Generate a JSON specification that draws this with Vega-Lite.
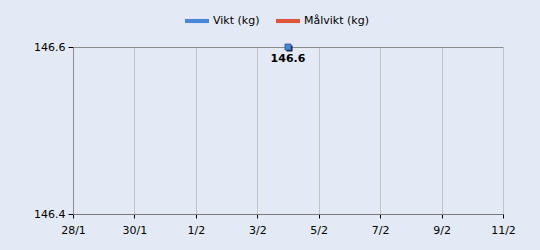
{
  "$schema": "https://vega.github.io/schema/vega-lite/v6.json",
  "width": 430,
  "height": 167,
  "autosize": {"type": "none"},
  "padding": {"left": 73, "top": 47, "right": 37, "bottom": 36},
  "background": "#e3eaf5",
  "config": {
    "view": {"stroke": null},
    "font": "DejaVu Sans",
    "axis": {"labelFont": "DejaVu Sans", "labelFontSize": 11, "labelColor": "#000000", "title": null}
  },
  "data": {"values": [
    {"date": "2013-02-04", "value": 146.6, "series": "Vikt (kg)"}
  ]},
  "encoding": {
    "x": {
      "field": "date", "type": "temporal",
      "scale": {"type": "utc", "domain": [
        {"year": 2013, "month": 1, "date": 28, "utc": true},
        {"year": 2013, "month": 2, "date": 11, "utc": true}
      ]},
      "axis": {
        "values": [
          {"year": 2013, "month": 1, "date": 28, "utc": true},
          {"year": 2013, "month": 1, "date": 30, "utc": true},
          {"year": 2013, "month": 2, "date": 1, "utc": true},
          {"year": 2013, "month": 2, "date": 3, "utc": true},
          {"year": 2013, "month": 2, "date": 5, "utc": true},
          {"year": 2013, "month": 2, "date": 7, "utc": true},
          {"year": 2013, "month": 2, "date": 9, "utc": true},
          {"year": 2013, "month": 2, "date": 11, "utc": true}
        ],
        "labelExpr": "utcFormat(datum.value, '%-d/%-m')",
        "grid": true, "gridColor": "#c4c4c4", "gridOpacity": 1,
        "domainColor": "#7a7a7a", "tickColor": "#000000", "tickSize": 4,
        "labelPadding": 6, "labelFlush": false
      }
    },
    "y": {
      "field": "value", "type": "quantitative",
      "scale": {"domain": [146.4, 146.6], "zero": false, "nice": false},
      "axis": {
        "values": [146.4, 146.6], "format": ".1f",
        "grid": true, "gridColor": "#8c8c8c", "gridOpacity": 1,
        "domainColor": "#8c8c8c", "tickColor": "#000000", "tickSize": 5,
        "labelPadding": 3
      }
    }
  },
  "layer": [
    {
      "mark": {"type": "point", "shape": "square", "filled": true, "size": 36, "color": "#1a1a2e", "opacity": 1, "xOffset": 1.5, "yOffset": 1.5},
      "encoding": {}
    },
    {
      "mark": {"type": "point", "shape": "square", "filled": true, "size": 36, "opacity": 1, "stroke": "#2a4f9a", "strokeWidth": 0.8},
      "encoding": {
        "color": {
          "field": "series", "type": "nominal",
          "scale": {"domain": ["Vikt (kg)", "Målvikt (kg)"], "range": ["#4a86d8", "#e0533f"]},
          "legend": {
            "orient": "none", "direction": "horizontal", "title": null,
            "legendX": 112, "legendY": -38,
            "symbolType": "M-1,-0.17H1V0.17H-1Z", "symbolSize": 576, "symbolStrokeWidth": 0,
            "labelFont": "DejaVu Sans", "labelFontSize": 11, "labelColor": "#000000",
            "columnPadding": 16, "labelOffset": 4
          }
        }
      }
    },
    {
      "mark": {"type": "text", "dy": 12, "fontWeight": "bold", "fontSize": 11, "font": "DejaVu Sans", "color": "#000000"},
      "encoding": {"text": {"field": "value", "type": "quantitative", "format": ".1f"}}
    }
  ]
}
